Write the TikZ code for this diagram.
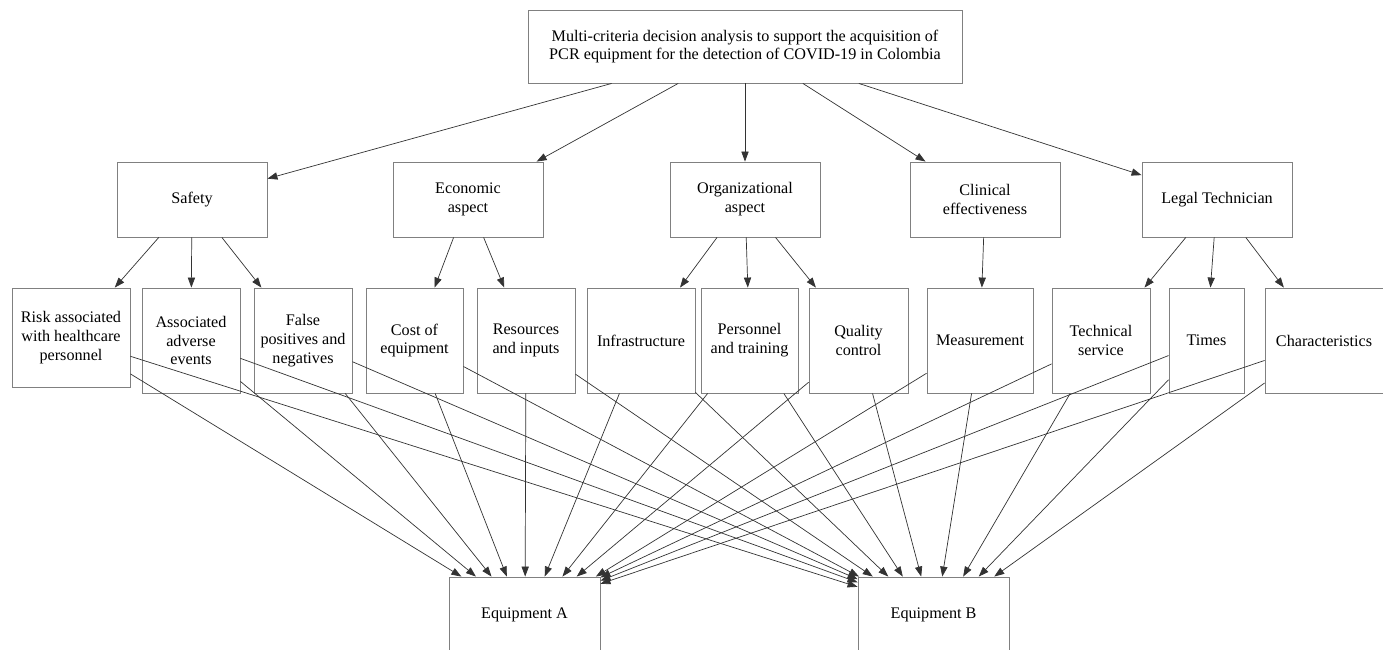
\documentclass[tikz,border=0pt]{standalone}
\usepackage{fontspec}
\setmainfont{Liberation Serif}
\usetikzlibrary{arrows.meta}

\begin{document}
\begin{tikzpicture}[
  box/.style={
      rectangle,
      draw=black!50,
      line width=0.5pt,
      text centered,
      align=center,
      inner sep=2pt,
      font=\fontsize{9.2}{10.7}\selectfont,
      fill=white
  },
  goal/.style={
      box,
      minimum width=8.68cm,
      minimum height=1.46cm
  },
  crit/.style={
      box,
      minimum width=3.0cm,
      minimum height=1.5cm
  },
  sub/.style={
      box,
      minimum width=1.96cm,
      minimum height=2.1cm
  },
  alt/.style={
      box,
      minimum width=3.02cm,
      minimum height=1.5cm
  },
  arrow/.style={
      ->,
      line width=0.4pt,
      draw=black!80,
      >={Triangle[length=2mm,width=1.45mm]}
  }
]

\useasboundingbox (0,0) rectangle (27.66,-12.98);

% ==================================================
% Goal
% ==================================================

\node[goal] (goal) at (14.90,-0.93)
{
Multi-criteria decision analysis to support the acquisition of\\
PCR equipment for the detection of COVID-19 in Colombia
};

% ==================================================
% Criteria
% ==================================================

\node[crit] (safety) at (3.84,-3.99) {Safety};
\node[crit] (econ) at (9.36,-3.99) {Economic\\aspect};
\node[crit] (org) at (14.90,-3.99) {Organizational\\aspect};
\node[crit] (clin) at (19.70,-3.99) {Clinical\\effectiveness};
\node[crit] (legal) at (24.34,-3.99) {Legal Technician};

% ==================================================
% Sub-criteria
% ==================================================

\node[
    sub,
    minimum width=2.36cm,
    minimum height=1.98cm
] (risk) at (1.42,-6.75)
{Risk associated\\with healthcare\\personnel};

\node[sub] (adverse) at (3.82,-6.81) {Associated\\adverse\\events};
\node[sub] (falsepn) at (6.06,-6.81) {False\\positives and\\negatives};
\node[sub, minimum width=1.94cm] (cost) at (8.29,-6.81) {Cost of\\equipment};
\node[sub] (resources) at (10.52,-6.81) {Resources\\and inputs};
\node[sub, minimum width=2.16cm] (infra) at (12.82,-6.81) {Infrastructure};
\node[sub, minimum width=1.94cm] (personnel) at (14.99,-6.81) {Personnel\\and training};
\node[sub, minimum width=1.98cm] (quality) at (17.17,-6.81) {Quality\\control};
\node[sub, minimum width=2.12cm] (measure) at (19.60,-6.81) {Measurement};
\node[sub] (techserv) at (22.02,-6.81) {Technical\\service};
\node[sub, minimum width=1.50cm] (times) at (24.13,-6.81) {Times};
\node[sub, minimum width=2.36cm] (charact) at (26.48,-6.81) {Characteristics};

% ==================================================
% Alternatives
% ==================================================

\node[alt] (eqa) at (10.49,-12.29) {Equipment A};
\node[alt] (eqb) at (18.67,-12.29) {Equipment B};

% ==================================================
% Goal -> criteria
% ==================================================

\draw[arrow] (goal) -- (safety);
\draw[arrow] (goal) -- (econ);
\draw[arrow] (goal) -- (org);
\draw[arrow] (goal) -- (clin);
\draw[arrow] (goal) -- (legal);

% ==================================================
% Criteria -> sub-criteria
% ==================================================

\draw[arrow] (safety) -- (risk);
\draw[arrow] (safety) -- (adverse);
\draw[arrow] (safety) -- (falsepn);
\draw[arrow] (econ) -- (cost);
\draw[arrow] (econ) -- (resources);
\draw[arrow] (org) -- (infra);
\draw[arrow] (org) -- (personnel);
\draw[arrow] (org) -- (quality);
\draw[arrow] (clin) -- (measure);
\draw[arrow] (legal) -- (techserv);
\draw[arrow] (legal) -- (times);
\draw[arrow] (legal) -- (charact);

% ==================================================
% Sub-criteria -> Equipment A
% ==================================================

\draw[arrow] (risk) -- (eqa.149.8);
\draw[arrow] (adverse) -- (eqa.142.8);
\draw[arrow] (falsepn) -- (eqa.131.8);
\draw[arrow] (cost) -- (eqa.115);
\draw[arrow] (resources) -- (eqa.89);
\draw[arrow] (infra) -- (eqa.62.5);
\draw[arrow] (personnel) -- (eqa.45.8);
\draw[arrow] (quality) -- (eqa.36.1);
\draw[arrow] (measure) -- (eqa.28.7);
\draw[arrow] (techserv) -- (eqa.26.4);
\draw[arrow] (times) -- (eqa.24.5);
\draw[arrow] (charact) -- (eqa.22);

% ==================================================
% Sub-criteria -> Equipment B
% ==================================================

\draw[arrow] (risk) -- (eqb.160);
\draw[arrow] (adverse) -- (eqb.157.5);
\draw[arrow] (falsepn) -- (eqb.155);
\draw[arrow] (cost) -- (eqb.153.5);
\draw[arrow] (resources) -- (eqb.148.6);
\draw[arrow] (infra) -- (eqb.140.5);
\draw[arrow] (personnel) -- (eqb.129.1);
\draw[arrow] (quality) -- (eqb.108.4);
\draw[arrow] (measure) -- (eqb.77.2);
\draw[arrow] (techserv) -- (eqb.52.8);
\draw[arrow] (times) -- (eqb.40.8);
\draw[arrow] (charact) -- (eqb.32.2);

\end{tikzpicture}
\end{document}
